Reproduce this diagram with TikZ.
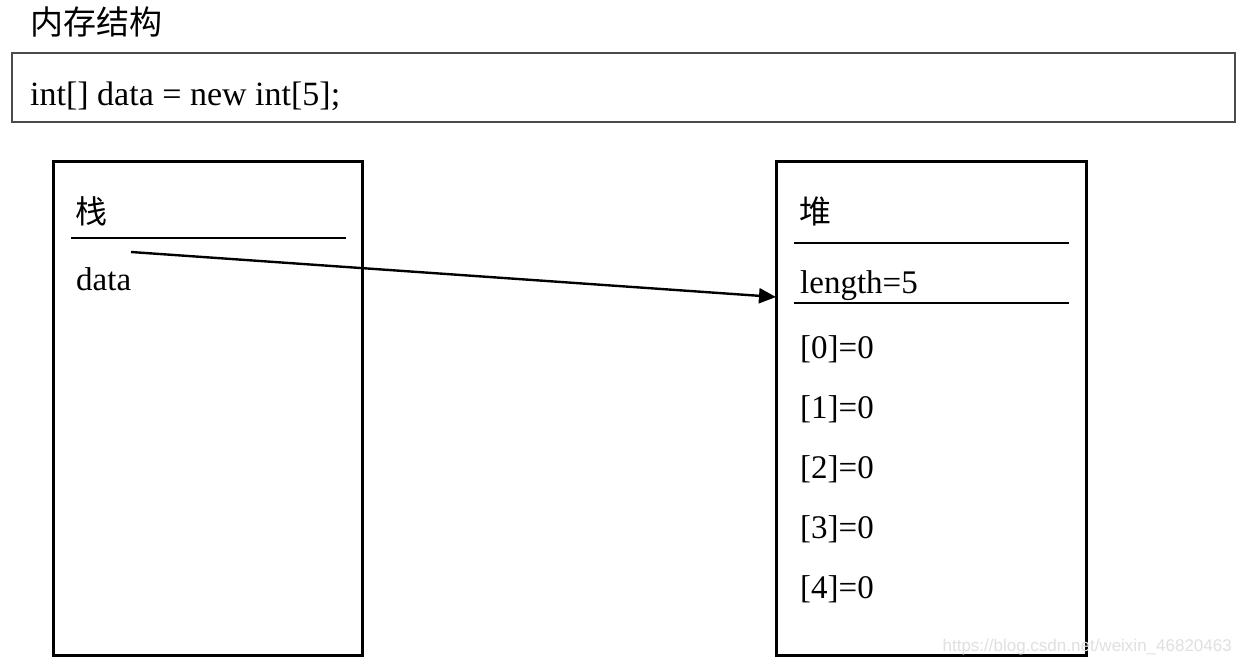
\documentclass[tikz,border=0pt]{standalone}
\usepackage{fontspec}
\setmainfont{Liberation Serif}
\newfontfamily\cjk{Noto Sans CJK SC}
\newfontfamily\wmfont{Liberation Sans}
\usetikzlibrary{arrows.meta}
\begin{document}
\begin{tikzpicture}[x=1pt,y=-1pt,
  txt/.style={anchor=base west,inner sep=0pt,font=\fontsize{33}{36}\selectfont},
  cjktxt/.style={anchor=base west,inner sep=0pt,font=\cjk\fontsize{32}{35}\selectfont},
  membox/.style={draw=black,line width=3pt},
  sep/.style={draw=black,line width=1.6pt}]
\useasboundingbox (0,0) rectangle (1242,663);
\fill[white] (0,0) rectangle (1242,663);
% title
\node[cjktxt,font=\cjk\fontsize{33}{36}\selectfont] (title) at (30,35) {内存结构};
% code box
\draw[draw=black!70,line width=1.2pt] (12,53) rectangle (1235,122);
\node[txt,font=\fontsize{34}{38}\selectfont] (code) at (30,106) {int[] data = new int[5];};
% stack box
\draw[membox] (53,162) rectangle (362,655);
\node[cjktxt] (stack) at (75,224) {栈};
\draw[sep] (71,238) -- (346,238);
\node[txt] (data) at (76,290) {data};
% heap box
\draw[membox] (776,162) rectangle (1086,655);
\node[cjktxt] (heap) at (799,224) {堆};
\draw[sep] (794,243) -- (1069,243);
\node[txt] (len) at (800,293) {length=5};
\draw[sep] (794,303) -- (1069,303);
\node[txt] (e0) at (800,358) {[0]=0};
\node[txt] (e1) at (800,418) {[1]=0};
\node[txt] (e2) at (800,478) {[2]=0};
\node[txt] (e3) at (800,538) {[3]=0};
\node[txt] (e4) at (800,598) {[4]=0};
% arrow
\coordinate (src) at (131,252);
\coordinate (dst) at (776,297);
\draw[line width=2.4pt,-{Triangle[length=17pt,width=15pt]}] (src) -- (dst);
% watermark
\node[anchor=base east,inner sep=0pt,text=black!12,font=\wmfont\fontsize{17}{20}\selectfont] (wm) at (1232,651) {https://blog.csdn.net/weixin\_46820463};
\end{tikzpicture}
\end{document}
